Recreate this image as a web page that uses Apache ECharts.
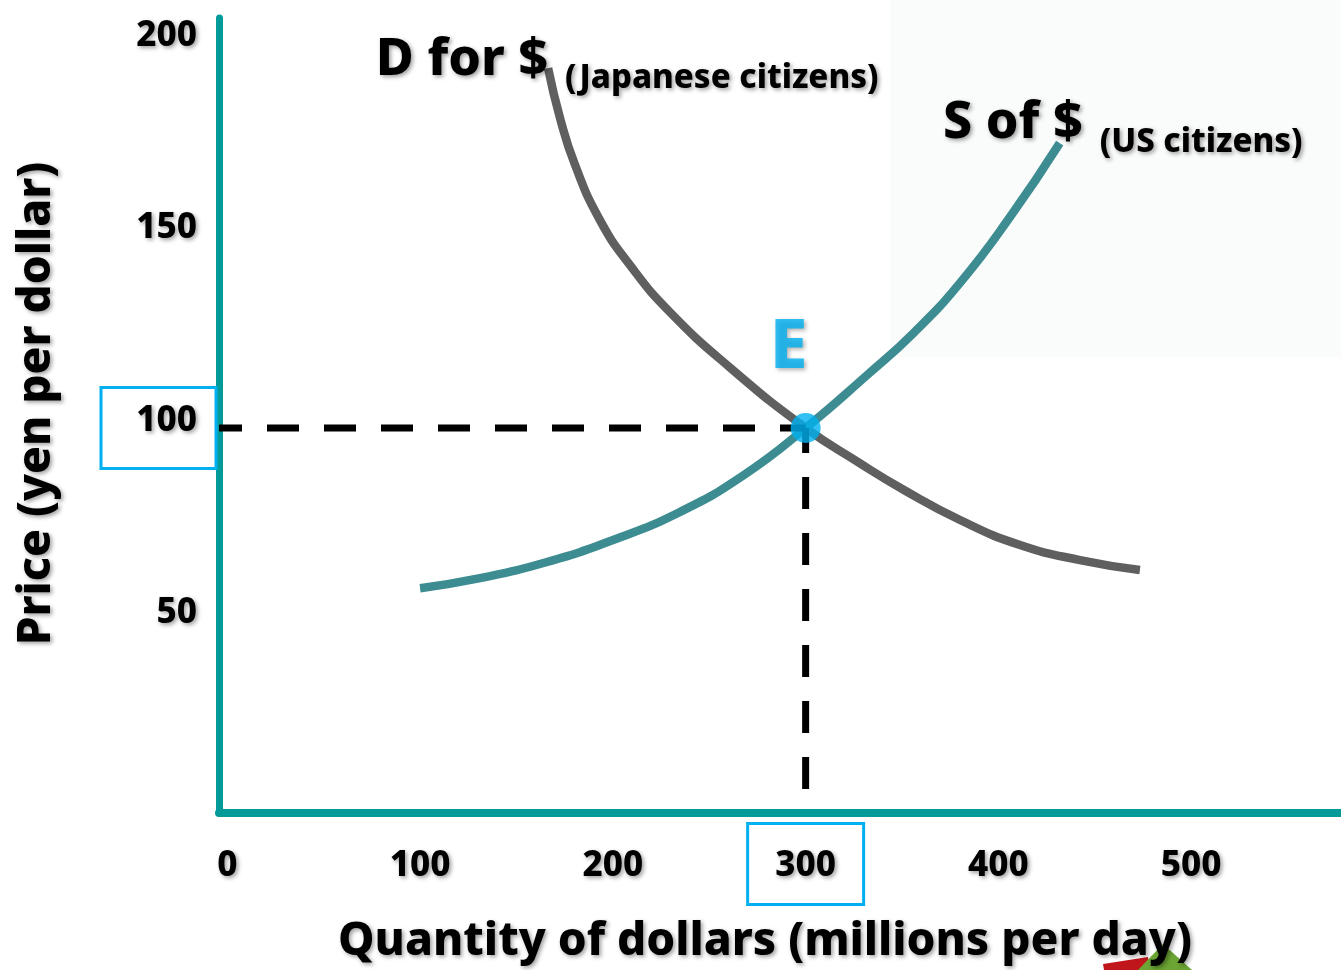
<!DOCTYPE html>
<html>
<head>
<meta charset="utf-8">
<title>Foreign exchange market for dollars</title>
<script src="https://cdn.jsdelivr.net/npm/echarts@6/dist/echarts.min.js"></script>
<style>
  html, body { margin: 0; padding: 0; background: #ffffff; }
  #chart { width: 1341px; height: 970px; }
</style>
</head>
<body>
<div id="chart"></div>
<script>
// Axis ticks
const quantityTicks = [0, 100, 200, 300, 400, 500];
const priceTicks = [50, 100, 150, 200];

// Demand for dollars (Japanese citizens): [quantity, price]
const demandCurve = [
  [166.4, 193.5], [172.6, 180.5], [180.4, 168.3], [193.3, 154.0], [208.9, 142.3],
  [229.6, 130.1], [261.0, 115.6], [300.0, 100.0], [327.0, 91.2], [351.0, 83.9],
  [380.1, 76.1], [411.2, 69.6], [442.3, 65.7], [473.4, 63.1]
];

// Supply of dollars (US citizens): [quantity, price]
const supplyCurve = [
  [100.0, 58.4], [131.1, 61.0], [165.8, 65.2], [200.1, 70.9], [234.8, 78.2],
  [268.0, 87.8], [300.0, 100.0], [332.0, 113.8], [356.0, 124.7], [380.1, 137.7],
  [406.0, 154.8], [431.8, 174.0]
];

// Equilibrium exchange rate and quantity
const equilibrium = [300, 100];
const dropLineEnd = 6;

const X_MIN = -4.3, X_MAX = 577.7;
const Y_MIN = 0, Y_MAX = 206.5;

const FONT = 'Noto Sans';
const WEIGHT = 800;
const TEAL_AXIS = '#039a9a';
const CYAN = '#00b0f0';
const shadow = {
  textShadowColor: 'rgba(0,0,0,0.38)',
  textShadowBlur: 4,
  textShadowOffsetX: 2,
  textShadowOffsetY: 2
};

const chart = echarts.init(document.getElementById('chart'), null, { renderer: 'canvas' });

const tickText = Object.assign({
  fontFamily: FONT, fontWeight: WEIGHT, fontSize: 35, color: '#000', lineHeight: 34
}, shadow);

const option = {
  backgroundColor: '#ffffff',
  animation: false,
  grid: { left: 219, right: 0, top: 18, bottom: 157, containLabel: false, outerBoundsMode: 'none' },
  xAxis: {
    type: 'value',
    min: X_MIN,
    max: X_MAX,
    splitLine: { show: false },
    axisTick: { show: false },
    axisLine: { onZero: false, lineStyle: { color: TEAL_AXIS, width: 8 } },
    axisLabel: {
      customValues: quantityTicks,
      margin: 34,
      formatter: v => (v === equilibrium[0] ? '{hi|' : '{n|') + v + '}',
      rich: {
        n: Object.assign({ width: 62, align: 'center', padding: [25, 27, 21, 27] }, tickText),
        hi: Object.assign({ width: 62, align: 'center', padding: [25, 27, 21, 27],
          borderColor: CYAN, borderWidth: 3 }, tickText)
      }
    },
    name: 'Quantity of dollars (millions per day)',
    nameLocation: 'middle',
    nameGap: 106,
    nameTextStyle: Object.assign({
      fontFamily: FONT, fontWeight: WEIGHT, fontSize: 46, color: '#000', lineHeight: 46,
      padding: [0, 30, 0, 0]
    }, shadow)
  },
  yAxis: {
    type: 'value',
    min: Y_MIN,
    max: Y_MAX,
    splitLine: { show: false },
    axisTick: { show: false },
    axisLine: { show: true, onZero: false, lineStyle: { color: TEAL_AXIS, width: 7 } },
    axisLabel: {
      customValues: priceTicks,
      margin: 3,
      formatter: v => (v === equilibrium[1] ? '{hi|' : '{n|') + v + '}',
      rich: {
        n: Object.assign({ width: 64, align: 'right', padding: [16, 19, 30, 32] }, tickText),
        hi: Object.assign({ width: 64, align: 'right', padding: [16, 19, 30, 32],
          borderColor: CYAN, borderWidth: 3 }, tickText)
      }
    },
    name: 'Price (yen per dollar)',
    nameLocation: 'middle',
    nameGap: 159,
    nameTextStyle: Object.assign({
      fontFamily: FONT, fontWeight: WEIGHT, fontSize: 46, color: '#000', lineHeight: 46,
      padding: [0, 0, 0, 24]
    }, shadow)
  },
  series: [
    {
      name: 'Demand',
      type: 'line',
      data: demandCurve,
      smooth: 0.5,
      showSymbol: false,
      symbol: 'none',
      z: 2,
      lineStyle: { color: '#5f5f5f', width: 8.5, cap: 'butt' }
    },
    {
      name: 'Supply',
      type: 'line',
      data: supplyCurve,
      smooth: 0.5,
      showSymbol: false,
      symbol: 'none',
      z: 2,
      lineStyle: { color: '#3d8c91', width: 8.5, cap: 'butt' }
    },
    {
      name: 'Price guide',
      type: 'line',
      data: [[X_MIN, equilibrium[1]], equilibrium],
      showSymbol: false,
      symbol: 'none',
      z: 3,
      lineStyle: { color: '#000', width: 7, type: [32, 25], dashOffset: 9, cap: 'butt' }
    },
    {
      name: 'Quantity guide',
      type: 'line',
      data: [equilibrium, [equilibrium[0], dropLineEnd]],
      showSymbol: false,
      symbol: 'none',
      z: 3,
      lineStyle: { color: '#000', width: 7, type: [32, 24], dashOffset: 7, cap: 'butt' }
    },
    {
      name: 'Equilibrium',
      type: 'scatter',
      data: [equilibrium],
      symbolSize: 30,
      z: 5,
      itemStyle: { color: CYAN },
      label: Object.assign({
        show: true,
        formatter: 'E',
        position: 'top',
        distance: 30,
        offset: [-17, 0],
        fontFamily: FONT,
        fontWeight: WEIGHT,
        fontSize: 68,
        color: CYAN
      }, shadow)
    }
  ]
};

chart.setOption(option);

// Curve captions, anchored at the loose ends of the two curves
const dTop = chart.convertToPixel({ gridIndex: 0 }, demandCurve[0]);
const sTop = chart.convertToPixel({ gridIndex: 0 }, supplyCurve[supplyCurve.length - 1]);

function caption(text, x, y, size, align) {
  return {
    type: 'text',
    x: x, y: y, z: 10,
    style: Object.assign({
      text: text,
      fontFamily: FONT, fontWeight: WEIGHT, fontSize: size,
      fill: '#000', align: align, verticalAlign: 'middle'
    }, shadow)
  };
}

chart.setOption({
  graphic: [
    // pale panel behind the upper right of the plot
    { type: 'rect', z: -10, silent: true,
      shape: { x: 890, y: 0, width: 451, height: 357 },
      style: { fill: '#fafbfb' } },
    caption('D for $', dTop[0], dTop[1] - 8, 52, 'right'),
    caption('(Japanese citizens)', dTop[0] + 17, dTop[1] + 11, 33, 'left'),
    caption('S of $', sTop[0] + 23, sTop[1] - 20, 52, 'right'),
    caption('(US citizens)', sTop[0] + 40, sTop[1] - 1, 33, 'left'),
    // arrow ornament peeking in at the bottom edge
    { type: 'polygon', z: -5, silent: true,
      shape: { points: [[1103, 964], [1148, 957], [1150, 970], [1104, 970]] },
      style: { fill: '#c0161b' } },
    { type: 'polygon', z: -4, silent: true,
      shape: { points: [[1138, 970], [1163, 944], [1192, 970]] },
      style: { fill: '#6da534' } }
  ]
});
</script>
</body>
</html>
